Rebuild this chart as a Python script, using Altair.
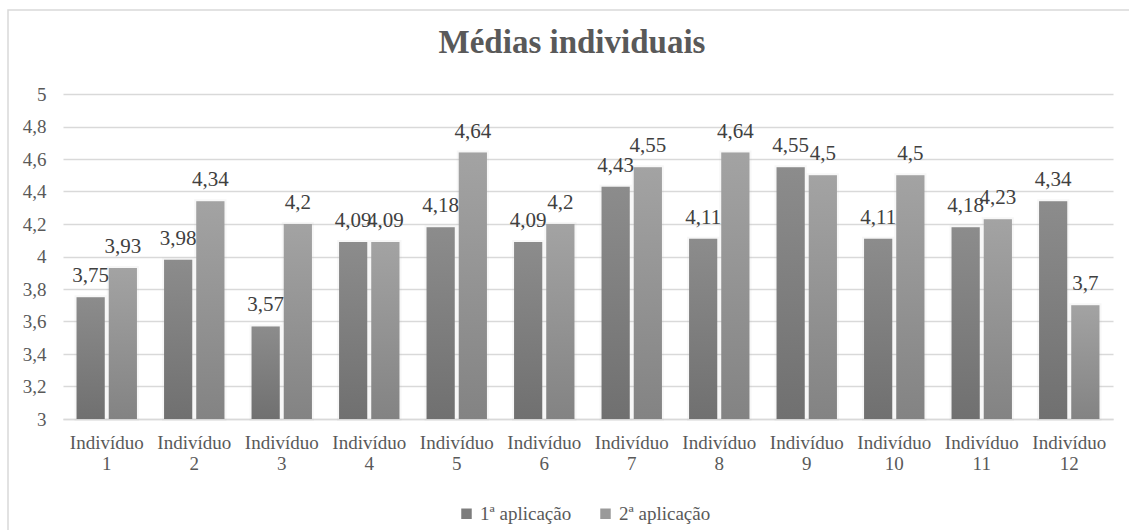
import altair as alt
import pandas as pd

# Médias por indivíduo nas duas aplicações
individuos = [f"Indivíduo {i}" for i in range(1, 13)]
aplicacoes = ["1ª aplicação", "2ª aplicação"]
media_1 = [3.75, 3.98, 3.57, 4.09, 4.18, 4.09, 4.43, 4.11, 4.55, 4.11, 4.18, 4.34]
media_2 = [3.93, 4.34, 4.20, 4.09, 4.64, 4.20, 4.55, 4.64, 4.50, 4.50, 4.23, 3.70]
y_ticks = [3, 3.2, 3.4, 3.6, 3.8, 4, 4.2, 4.4, 4.6, 4.8, 5]
y_min = 3

rows = []
for nome, a, b in zip(individuos, media_1, media_2):
    rows.append({"individuo": nome, "aplicacao": aplicacoes[0], "media": a})
    rows.append({"individuo": nome, "aplicacao": aplicacoes[1], "media": b})
df = pd.DataFrame(rows)
df["rotulo"] = df["media"].map(lambda v: f"{v:g}".replace(".", ","))

FONT = "Liberation Serif"
TXT = "#595959"

x_enc = alt.X(
    "individuo:N",
    sort=individuos,
    scale=alt.Scale(paddingInner=0.31, paddingOuter=0.155),
    axis=alt.Axis(
        title=None,
        labelAngle=0,
        labelExpr="['Indivíduo', split(datum.label, ' ')[1]]",
        labelFont=FONT,
        labelFontSize=19,
        labelColor=TXT,
        labelLineHeight=21,
        labelBaseline="top",
        labelPadding=14,
        ticks=False,
        domainColor="#d9d9d9",
        domainWidth=1.5,
        grid=False,
    ),
)
xoff_enc = alt.XOffset(
    "aplicacao:N",
    sort=aplicacoes,
    scale=alt.Scale(paddingInner=0.125, paddingOuter=0),
)
y_enc = alt.Y(
    "media:Q",
    scale=alt.Scale(domain=[3, 5], nice=False, zero=False),
    axis=alt.Axis(
        title=None,
        values=y_ticks,
        labelExpr="replace(format(datum.value, '.2~f'), '.', ',')",
        labelFont=FONT,
        labelFontSize=19,
        labelColor=TXT,
        labelPadding=17,
        ticks=False,
        domain=False,
        gridColor="#d9d9d9",
        gridWidth=1.5,
    ),
)
y2_enc = alt.datum(y_min)

base = alt.Chart(df)


def gradiente(topo, base_cor):
    return alt.Gradient(
        gradient="linear",
        stops=[
            alt.GradientStop(color=topo, offset=0),
            alt.GradientStop(color=base_cor, offset=1),
        ],
        x1=0, x2=0, y1=0, y2=1,
    )


# soft halo behind bars
sombra = base.mark_bar(
    color="#9a9a9a", opacity=0.25, stroke="#b0b0b0", strokeWidth=4, strokeOpacity=0.35
).encode(x=x_enc, xOffset=xoff_enc, y=y_enc, y2=y2_enc)

barras_1 = base.transform_filter(
    alt.datum.aplicacao == aplicacoes[0]
).mark_bar(color=gradiente("#8c8c8c", "#707070")).encode(
    x=x_enc, xOffset=xoff_enc, y=y_enc, y2=y2_enc
)
barras_2 = base.transform_filter(
    alt.datum.aplicacao == aplicacoes[1]
).mark_bar(color=gradiente("#a3a3a3", "#838383")).encode(
    x=x_enc, xOffset=xoff_enc, y=y_enc, y2=y2_enc
)

rotulos = base.mark_text(
    font=FONT, fontSize=21, color="#404040", baseline="alphabetic", dy=-15
).encode(x=x_enc, xOffset=xoff_enc, y=y_enc, text="rotulo:N")

# invisible marks that carry the series legend
legenda = base.mark_square(opacity=0, size=1).encode(
    x=x_enc,
    xOffset=xoff_enc,
    y=y_enc,
    color=alt.Color(
        "aplicacao:N",
        sort=aplicacoes,
        scale=alt.Scale(domain=aplicacoes, range=["#7d7d7d", "#9a9a9a"]),
        legend=alt.Legend(
            title=None,
            orient="none",
            direction="horizontal",
            legendX=394,
            legendY=410,
            symbolType="square",
            symbolSize=110,
            symbolOpacity=1,
            symbolStrokeWidth=0,
            labelFont=FONT,
            labelFontSize=19,
            labelColor=TXT,
            labelOffset=4,
            columnPadding=24,
            padding=0,
        ),
    ),
)

titulo = alt.Chart(alt.Data(values=[{"t": "Médias individuais"}])).mark_text(
    font=FONT, fontSize=33, fontWeight="bold", color=TXT, baseline="alphabetic", align="center"
).encode(x=alt.value(509), y=alt.value(-41), text="t:N")

moldura = alt.Chart(alt.Data(values=[{}])).mark_rect(
    filled=False, stroke="#d9d9d9", strokeWidth=1.5
).encode(x=alt.value(-55), x2=alt.value(1080), y=alt.value(-84), y2=alt.value(450))

chart = (
    alt.layer(moldura, sombra, barras_1, barras_2, rotulos, legenda, titulo)
    .properties(
        width=1050,
        height=325,
        autosize=alt.AutoSizeParams(type="none"),
        padding={"left": 63, "top": 94, "right": 16, "bottom": 111},
        background="white",
    )
    .configure_view(stroke=None)
)

chart.save("out.html", embed_options={"renderer": "svg", "actions": False})
